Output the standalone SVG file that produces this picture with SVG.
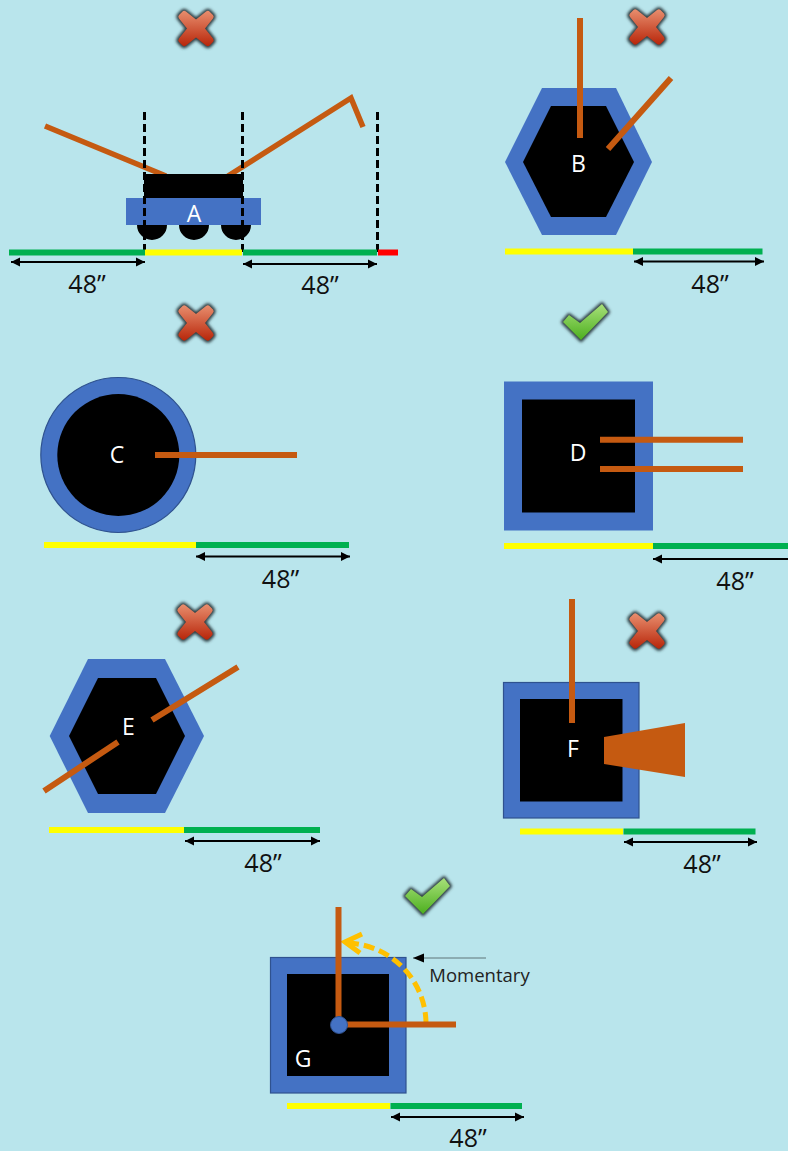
<svg xmlns="http://www.w3.org/2000/svg" width="788" height="1151" viewBox="0 0 788 1151">
<style>
.bg{fill:#B9E5EC}
.shell{fill:#4472C4}
.edge{stroke:#2F528F;stroke-width:1.2}
.core{fill:#000}
.arm{stroke:#C55A11;stroke-width:6;fill:none}
.armf{fill:#C55A11}
.yellow{fill:#FFFF00}
.green{fill:#00B050}
.red{fill:#FF0000}
.dim{stroke:#000;stroke-width:2;fill:none;marker-start:url(#head);marker-end:url(#head)}
.guide{stroke:#000;stroke-width:3;stroke-dasharray:8 4;fill:none}
.t{font-family:"Open Sans","Noto Sans",sans-serif;text-anchor:middle}
.letter{font-size:23px;fill:#fff}
.size{font-size:25px;fill:#111}
</style>
<defs>
<marker id="head" markerUnits="userSpaceOnUse" markerWidth="10" markerHeight="10" refX="9" refY="5" orient="auto-start-reverse"><path d="M0 .5L9 5L0 9.500z" fill="#000"/></marker>
<marker id="thin" markerUnits="userSpaceOnUse" markerWidth="12" markerHeight="10" refX="11" refY="5" orient="auto"><path d="M0 .5L11 5L0 9.500z" fill="#000"/></marker>
<linearGradient id="gx" x1="0" y1="0" x2="0" y2="1"><stop offset="0" stop-color="#E88E6E"/><stop offset="1" stop-color="#B8260A"/></linearGradient>
<linearGradient id="gc" x1="0" y1="0" x2="0" y2="1"><stop offset="0" stop-color="#A8E07A"/><stop offset="1" stop-color="#4CAF1E"/></linearGradient>
<filter id="soft" x="-30%" y="-30%" width="160%" height="160%"><feGaussianBlur stdDeviation="1.500"/></filter>
<path id="xp" d="M-10-17L0-9L10-17Q12-18.500 13.500-17L17-13.500Q18.500-12 17-10L9 0L17 10Q18.500 12 17 13.500L13.500 17Q12 18.500 10 17L0 9L-10 17Q-12 18.500-13.500 17L-17 13.500Q-18.500 12-17 10L-9 0L-17-10Q-18.500-12-17-13.500L-13.500-17Q-12-18.500-10-17z"/>
<path id="cp" d="M-22 0L-16-7L-5 1L17-18L23-10L-4 18z"/>
<g id="cross"><use href="#xp" fill="#2D3D42" stroke="#2D3D42" stroke-width="4" filter="url(#soft)"/><use href="#xp" fill="url(#gx)"/></g>
<g id="check"><use href="#cp" fill="#2D3D42" stroke="#2D3D42" stroke-width="4" stroke-linejoin="round" filter="url(#soft)"/><use href="#cp" fill="url(#gc)"/></g>
</defs>
<rect class="bg" width="788" height="1151"/>

<g id="status-marks">
<use href="#cross" x="196" y="28.500"/>
<use href="#cross" x="647" y="27"/>
<use href="#cross" x="196" y="323"/>
<use href="#check" x="585" y="322"/>
<use href="#cross" x="195" y="622"/>
<use href="#cross" x="647" y="631"/>
<use href="#check" x="427" y="896"/>
</g>

<g id="node-A">
<path class="arm" style="stroke-width:5.500" d="M45 126L166 176M228 176L351 98L363 127"/>
<path class="core" d="M137 225a15 15 0 0 0 30 0zM179 225a15 15 0 0 0 30 0zM221 225a15 15 0 0 0 30 0z"/>
<rect class="core" x="144" y="174" width="99" height="24"/>
<rect class="shell" x="126" y="198" width="135" height="27"/>
<path class="guide" d="M144.500 112V256M242.500 112V256M377.500 112V256"/>
<rect class="green" x="9" y="249.500" width="136" height="6"/>
<rect class="yellow" x="145" y="249.500" width="97" height="6"/>
<rect class="green" x="243" y="249.500" width="134" height="6"/>
<rect class="red" x="378" y="249.500" width="20" height="6"/>
<text class="t letter" x="194" y="221.500">A</text>
<text class="t size" x="87" y="293">48”</text>
<text class="t size" x="320" y="294">48”</text>
</g>

<g id="node-B">
<path class="shell" d="M505 162L542 88H616L652 162L616 235H542z"/>
<path class="core" d="M523 162L551 106H606L634 162L606 217H551z"/>
<path class="arm" d="M580 18V138M608 149L671 78"/>
<rect class="yellow" x="505" y="248.500" width="128" height="6"/>
<rect class="green" x="633" y="248.500" width="129.500" height="6"/>
<text class="t letter" x="578.500" y="172">B</text>
<text class="t size" x="710" y="293">48”</text>
</g>

<g id="node-C">
<circle class="shell edge" cx="118.300" cy="455" r="77.500"/>
<circle class="core" cx="118.300" cy="455" r="61"/>
<path class="arm" d="M155 455H297"/>
<rect class="yellow" x="44" y="542" width="152" height="6"/>
<rect class="green" x="196" y="542" width="153" height="6"/>
<text class="t letter" x="117" y="463">C</text>
<text class="t size" x="280.500" y="588">48”</text>
</g>

<g id="node-D">
<rect class="shell" x="504" y="381.500" width="149" height="149"/>
<rect class="core" x="522" y="399.500" width="113" height="113"/>
<path class="arm" d="M600 439.700H743M600 469H743"/>
<rect class="yellow" x="504" y="543" width="149" height="6"/>
<rect class="green" x="653" y="543" width="135" height="6"/>
<text class="t letter" x="578" y="461">D</text>
<text class="t size" x="735" y="590">48”</text>
</g>

<g id="node-E">
<path class="shell" d="M49.700 736L88 659H165L204 736L165 813H88z"/>
<path class="core" d="M69 736L98 678H156L185 736L156 794H98z"/>
<path class="arm" d="M44 791L118 742M152 720L238 667"/>
<rect class="yellow" x="49" y="827" width="135" height="6"/>
<rect class="green" x="184" y="827" width="136" height="6"/>
<text class="t letter" x="128.500" y="735">E</text>
<text class="t size" x="263" y="872">48”</text>
</g>

<g id="node-F">
<rect class="shell edge" x="503.500" y="682.500" width="135.500" height="135.500"/>
<rect class="core" x="520" y="699" width="102.500" height="102.500"/>
<path class="arm" d="M572 599V723"/>
<path class="armf" d="M604 737L685 723V777L604 764z"/>
<rect class="yellow" x="520" y="828.500" width="103" height="6"/>
<rect class="green" x="623.500" y="828.500" width="132" height="6"/>
<text class="t letter" x="573" y="757">F</text>
<text class="t size" x="702" y="873">48”</text>
</g>

<g id="node-G">
<rect class="shell edge" x="270.500" y="957.500" width="135.500" height="135.500"/>
<rect class="core" x="287" y="974" width="102" height="102"/>
<path d="M426 1023A82 81 0 0 0 349 943" fill="none" stroke="#FFC000" stroke-width="5" stroke-dasharray="11 5"/>
<path d="M362 934L345 942L360 953" fill="none" stroke="#FFC000" stroke-width="5"/>
<path class="arm" d="M338.500 907V1025M345 1024.500H456"/>
<circle cx="339" cy="1025" r="8.500" fill="#4472C4" stroke="#2F528F"/>
<rect class="yellow" x="287" y="1103" width="103" height="6"/>
<rect class="green" x="390.500" y="1103" width="131.500" height="6"/>
<text class="t letter" x="303" y="1067">G</text>
<text class="t" x="479.500" y="982" font-size="18.500" fill="#222">Momentary</text>
<text class="t size" x="468" y="1147">48”</text>
</g>

<g id="connectors">
<path class="dim" d="M11 262H145"/>
<path class="dim" d="M243 264H377"/>
<path class="dim" d="M634 261.500H764"/>
<path class="dim" d="M196 556.500H350"/>
<path class="dim" style="marker-end:none" d="M653 559H788"/>
<path class="dim" d="M185 841H320"/>
<path class="dim" d="M624 842H757"/>
<path class="dim" d="M391 1117H524"/>
<path d="M486 958H413" fill="none" stroke="#5F7478" stroke-width="1" marker-end="url(#thin)"/>
</g>
</svg>
